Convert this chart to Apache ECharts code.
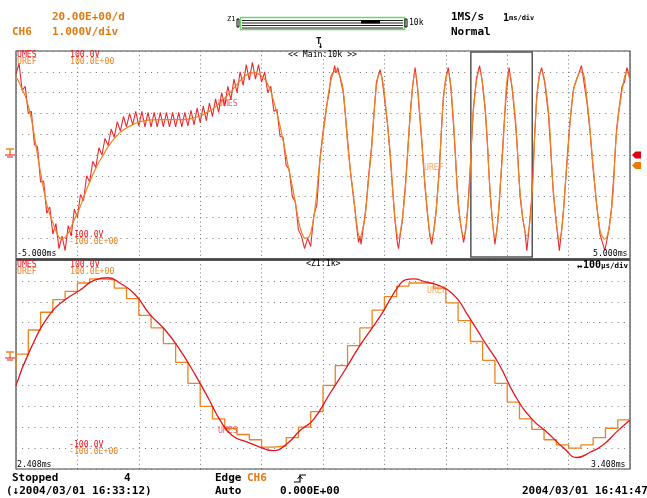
<!DOCTYPE html>
<html><head><meta charset="utf-8">
<script src="https://cdn.jsdelivr.net/npm/echarts@6/dist/echarts.min.js"></script>
<style>html,body{margin:0;padding:0;background:#fff;}#c{width:647px;height:498px;}</style>
</head><body><div id="c"></div>
<script>
// ---- data (time in ms, value in V) ----
const topRange = [-5, 5];
const zoomRange = [2.408, 3.408];
const yRange = [-100, 100];
const urefTop = [[-5.00,75],[-4.95,70],[-4.90,63],[-4.85,57],[-4.80,47],[-4.75,35],[-4.70,18],[-4.65,0],[-4.60,-17],[-4.55,-33],[-4.50,-47],[-4.45,-57],[-4.40,-65],[-4.35,-73],[-4.30,-79],[-4.25,-80.5],[-4.20,-79],[-4.15,-75],[-4.10,-69],[-4.05,-62],[-4.00,-56],[-3.95,-49],[-3.90,-41],[-3.85,-33],[-3.80,-26],[-3.75,-19],[-3.70,-13],[-3.65,-7],[-3.60,-2],[-3.55,3],[-3.50,8],[-3.45,12],[-3.40,16],[-3.35,19],[-3.30,22],[-3.25,24],[-3.20,26],[-3.15,27.5],[-3.10,29],[-3.05,30.5],[-3.00,31.5],[-2.90,33],[-2.80,33.8],[-2.60,34],[-2.40,34],[-2.20,34.3],[-2.10,35.8],[-2.00,37.5],[-1.90,40.5],[-1.80,44],[-1.70,49],[-1.60,55],[-1.50,61],[-1.40,68],[-1.30,74.5],[-1.20,78.5],[-1.12,79.3],[-1.05,78],[-0.95,73],[-0.90,68],[-0.85,61],[-0.80,51],[-0.75,40],[-0.70,28],[-0.65,14],[-0.60,-1],[-0.55,-16],[-0.50,-30],[-0.45,-46],[-0.40,-63],[-0.35,-74],[-0.29,-80],[-0.22,-78],[-0.14,-56],[-0.05,-5],[0.06,46],[0.13,72],[0.21,81],[0.28,75],[0.33,62],[0.41,5],[0.49,-36],[0.55,-66],[0.60,-80],[0.65,-70],[0.68,-62],[0.74,-25],[0.79,5],[0.87,66],[0.93,79],[0.98,68],[1.01,53],[1.09,5],[1.17,-59],[1.23,-80],[1.29,-62],[1.34,-33],[1.42,37],[1.50,80],[1.58,37],[1.66,-27],[1.77,-80],[1.88,-27],[1.96,53],[2.04,80],[2.12,37],[2.20,-43],[2.29,-78],[2.37,-43],[2.45,43],[2.55,81],[2.64,46],[2.72,-33],[2.80,-80],[2.91,-11],[3.03,80],[3.13,37],[3.21,-36],[3.32,-78],[3.40,-43],[3.48,53],[3.56,81],[3.67,43],[3.75,-33],[3.85,-81],[3.97,-11],[4.08,62],[4.21,81],[4.30,53],[4.40,-11],[4.51,-72],[4.59,-81],[4.70,-52],[4.78,21],[4.87,62],[4.95,80],[5.00,72]];
const umesTop = [[-5.00,78],[-4.95,88],[-4.90,62],[-4.85,66],[-4.80,40],[-4.75,42],[-4.70,10],[-4.65,8],[-4.60,-26],[-4.55,-25],[-4.50,-56],[-4.45,-50],[-4.40,-76],[-4.35,-66],[-4.30,-90],[-4.25,-78],[-4.20,-92],[-4.15,-68],[-4.10,-78],[-4.05,-52],[-4.00,-60],[-3.95,-38],[-3.90,-44],[-3.85,-20],[-3.80,-26],[-3.75,-6],[-3.70,-12],[-3.65,7],[-3.60,0],[-3.55,16],[-3.50,9],[-3.45,25],[-3.40,17],[-3.35,32],[-3.30,23],[-3.25,37],[-3.20,27],[-3.15,40],[-3.10,29],[-3.05,42],[-3.00,28],[-2.95,42],[-2.90,27],[-2.85,41],[-2.80,27],[-2.75,41],[-2.70,27],[-2.65,41],[-2.60,27],[-2.55,41],[-2.50,27],[-2.45,41],[-2.40,27],[-2.35,41],[-2.30,27],[-2.25,41],[-2.20,28],[-2.15,43],[-2.10,29],[-2.05,45],[-2.00,31],[-1.95,47],[-1.90,33],[-1.85,50],[-1.80,37],[-1.75,54],[-1.70,41],[-1.65,60],[-1.60,47],[-1.55,66],[-1.50,53],[-1.45,73],[-1.40,60],[-1.35,80],[-1.30,67],[-1.25,87],[-1.20,72],[-1.15,89],[-1.10,73],[-1.05,87],[-1.00,70],[-0.95,80],[-0.90,60],[-0.85,66],[-0.80,42],[-0.75,44],[-0.70,18],[-0.65,17],[-0.60,-10],[-0.55,-14],[-0.50,-40],[-0.45,-45],[-0.40,-72],[-0.35,-78],[-0.30,-90],[-0.25,-80],[-0.20,-88],[-0.15,-58],[-0.10,-48],[-0.05,-4],[0.00,22],[0.06,48],[0.10,60],[0.13,76],[0.17,80],[0.19,86],[0.21,79],[0.24,84],[0.28,74],[0.33,60],[0.37,35],[0.41,8],[0.45,-18],[0.49,-38],[0.52,-52],[0.55,-70],[0.58,-84],[0.60,-78],[0.62,-86],[0.65,-72],[0.68,-60],[0.71,-44],[0.74,-22],[0.79,8],[0.83,40],[0.87,70],[0.90,76],[0.93,82],[0.96,74],[1.01,50],[1.05,30],[1.09,2],[1.13,-30],[1.17,-62],[1.21,-84],[1.23,-90],[1.26,-76],[1.29,-64],[1.34,-30],[1.38,4],[1.42,40],[1.46,66],[1.50,84],[1.54,64],[1.58,34],[1.62,4],[1.66,-30],[1.70,-56],[1.74,-78],[1.77,-86],[1.80,-74],[1.84,-56],[1.88,-24],[1.92,14],[1.96,56],[2.00,74],[2.04,84],[2.08,66],[2.12,34],[2.16,-4],[2.20,-46],[2.24,-66],[2.29,-84],[2.33,-70],[2.37,-40],[2.41,0],[2.45,46],[2.50,74],[2.55,86],[2.59,72],[2.64,44],[2.68,8],[2.72,-36],[2.76,-64],[2.80,-86],[2.84,-68],[2.87,-48],[2.91,-8],[2.95,30],[2.99,62],[3.03,84],[3.08,64],[3.13,34],[3.17,2],[3.21,-40],[3.25,-60],[3.29,-74],[3.32,-92],[3.36,-68],[3.40,-40],[3.44,10],[3.48,56],[3.52,76],[3.56,84],[3.61,70],[3.67,40],[3.71,4],[3.75,-36],[3.80,-66],[3.85,-92],[3.89,-70],[3.93,-44],[3.97,-8],[4.02,30],[4.08,64],[4.14,74],[4.21,86],[4.25,70],[4.30,50],[4.35,22],[4.40,-14],[4.45,-44],[4.51,-76],[4.55,-84],[4.59,-92],[4.63,-80],[4.66,-70],[4.70,-50],[4.74,-16],[4.78,24],[4.82,44],[4.87,66],[4.91,70],[4.95,84],[5.00,74]];
const umesBot = [[2.408,-20],[2.431,14],[2.463,48],[2.488,62],[2.512,71],[2.537,81],[2.558,83],[2.577,78],[2.602,67],[2.626,48],[2.651,33],[2.675,14],[2.700,-10],[2.721,-32],[2.740,-53],[2.760,-68],[2.784,-74],[2.805,-79],[2.827,-82.5],[2.849,-76],[2.871,-63],[2.892,-53],[2.919,-28],[2.944,-5],[2.968,18],[3.001,46],[3.017,62],[3.030,74],[3.042,81],[3.056,82],[3.075,79],[3.095,76],[3.112,71],[3.128,62],[3.143,48],[3.158,34],[3.175,18],[3.195,0],[3.221,-30],[3.248,-52],[3.275,-66],[3.300,-80],[3.322,-89],[3.343,-84],[3.364,-77],[3.387,-64],[3.408,-53]];
const urefBot = [[2.408,-5],[2.428,10],[2.448,33],[2.468,50],[2.488,62],[2.508,70],[2.528,78],[2.548,82],[2.568,81],[2.588,73],[2.608,63],[2.628,47],[2.648,35],[2.668,20],[2.688,2],[2.708,-18],[2.728,-40],[2.748,-52],[2.768,-61],[2.788,-67],[2.808,-72],[2.828,-79],[2.848,-78],[2.868,-70],[2.888,-60],[2.908,-45],[2.928,-20],[2.948,-1],[2.968,18],[2.988,35],[3.008,52],[3.028,65],[3.048,75],[3.068,78],[3.088,78],[3.108,73],[3.128,59],[3.148,42],[3.168,22],[3.188,4],[3.208,-18],[3.228,-36],[3.248,-52],[3.268,-62],[3.288,-72],[3.308,-77],[3.328,-80],[3.348,-77],[3.368,-70],[3.388,-61],[3.408,-53]];

const RED = '#e8141c', ORG = '#ec8420', HDR = '#e27a10', MONO = '"DejaVu Sans Mono", monospace';
const chart = echarts.init(document.getElementById('c'), null, {renderer:'canvas'});

function xAx(idx, range){
  return {type:'value', gridIndex:idx, min:range[0], max:range[1], interval:(range[1]-range[0])/10,
    axisLine:{show:false}, axisTick:{show:false}, axisLabel:{show:false},
    splitLine:{show:true, lineStyle:{color:'#777', width:1, type:[1,3.16]}}};
}
function yAx(idx){
  return {type:'value', gridIndex:idx, min:yRange[0], max:yRange[1], interval:20,
    axisLine:{show:false}, axisTick:{show:false}, axisLabel:{show:false},
    splitLine:{show:true, lineStyle:{color:'#777', width:1, type:[1,5.14]}}};
}
function txt(x, y, s, color, size, bold, extra){
  return Object.assign({type:'text', x:x, y:y, z:100, style:{text:s, fill:color||'#000',
    font:(bold?'bold ':'')+size+'px '+MONO, textVerticalAlign:'top'}}, extra||{});
}
const g = [];
// header
g.push(txt(52,12,'20.00E+00/d',HDR,11,true));
g.push(txt(12,27,'CH6',HDR,11,true));
g.push(txt(52,27,'1.000V/div',HDR,11,true));
g.push(txt(227,16,'Z1',null,7,false));
g.push({type:'rect', shape:{x:237,y:19,width:2,height:8}, style:{fill:'none',stroke:'#000',lineWidth:1}});
g.push({type:'rect', shape:{x:240.5,y:17.5,width:164,height:12}, style:{fill:'#fff',stroke:'#6fd36f',lineWidth:1.5}});
[20.5,23,25.5,28].forEach(function(yy){g.push({type:'line', shape:{x1:242,y1:yy,x2:403,y2:yy}, style:{stroke:'#222',lineWidth:1}});});
g.push({type:'rect', shape:{x:361,y:20,width:19,height:3.5}, style:{fill:'#000'}});
g.push({type:'rect', shape:{x:405,y:19,width:2,height:8}, style:{fill:'none',stroke:'#000',lineWidth:1}});
g.push(txt(409,19,'10k',null,8,false));
g.push(txt(451,12,'1MS/s',null,11,true));
g.push(txt(503,13,'1',null,10,true));
g.push(txt(509,15,'ms/div',null,7,true));
g.push(txt(451,27,'Normal',null,11,true));
g.push(txt(316,37,'T',null,9,true));
g.push(txt(318,41,'↓',null,9,true));
// top panel labels
g.push(txt(17,51,'UMES',RED,8.2,false));
g.push(txt(17,58,'UREF',ORG,8.2,false));
g.push(txt(70,51,'100.0V',RED,8.2,false));
g.push(txt(70,58,'100.0E+00',ORG,8.2,false));
g.push(txt(69,231,'-100.0V',RED,8.2,false));
g.push(txt(69,238,'-100.0E+00',ORG,8.2,false));
g.push(txt(17,250,'-5.000ms',null,8.2,false));
g.push(txt(593,250,'5.000ms',null,8.2,false));
g.push(txt(288,51,'<< Main:10k >>',null,8.2,false));
g.push(txt(218,100,'UMES','rgba(232,20,28,0.7)',8.2,false));
g.push(txt(424,164,'UREF','rgba(236,132,32,0.7)',8.2,false));
// bottom panel labels
g.push(txt(17,261,'UMES',RED,8.2,false));
g.push(txt(17,268,'UREF',ORG,8.2,false));
g.push(txt(70,261,'100.0V',RED,8.2,false));
g.push(txt(70,268,'100.0E+00',ORG,8.2,false));
g.push(txt(306,260,'<Z1:1k>',null,8.2,false));
g.push(txt(577,262,'↔',null,9,true));
g.push(txt(583,260,'100',null,10,true));
g.push(txt(601,262,'μs/div',null,7.5,true));
g.push(txt(69,441,'-100.0V',RED,8.2,false));
g.push(txt(69,448,'-100.0E+00',ORG,8.2,false));
g.push(txt(17,461,'2.408ms',null,8.2,false));
g.push(txt(591,461,'3.408ms',null,8.2,false));
g.push(txt(218,427,'UMES','rgba(232,20,28,0.7)',8.2,false));
g.push(txt(427,287,'UREF','rgba(236,132,32,0.7)',8.2,false));
// status line
g.push(txt(12,473,'Stopped',null,11,true));
g.push(txt(124,473,'4',null,11,true));
g.push(txt(215,473,'Edge',null,11,true));
g.push(txt(247,473,'CH6',HDR,11,true));
g.push({type:'polyline', shape:{points:[[294,482],[300,482],[300,475],[306,475]]}, style:{stroke:'#000',lineWidth:1.2,fill:null}});
g.push({type:'polyline', shape:{points:[[297.5,479],[300,476],[302.5,479]]}, style:{stroke:'#000',lineWidth:1,fill:null}});
g.push(txt(6,486,'(↓2004/03/01 16:33:12)',null,11,true));
g.push(txt(215,486,'Auto',null,11,true));
g.push(txt(280,486,'0.000E+00',null,11,true));
g.push(txt(522,486,'2004/03/01 16:41:47',null,11,true));
// panel separator
g.push({type:'line', shape:{x1:16,y1:259.5,x2:630,y2:259.5}, style:{stroke:'#444',lineWidth:2.5}, z:50});
// ground markers
function gnd(y, c1, c2){
  g.push({type:'line', shape:{x1:6,y1:y,x2:14,y2:y}, style:{stroke:c1,lineWidth:1.5}});
  g.push({type:'line', shape:{x1:10,y1:y,x2:10,y2:y+6}, style:{stroke:c1,lineWidth:1.5}});
  g.push({type:'line', shape:{x1:5,y1:y+6,x2:15,y2:y+6}, style:{stroke:c2,lineWidth:1}});
  g.push({type:'line', shape:{x1:7,y1:y+8,x2:13,y2:y+8}, style:{stroke:c2,lineWidth:1}});
}
gnd(149, ORG, RED);
gnd(352, ORG, RED);
// right trigger-level flags
g.push({type:'polygon', shape:{points:[[632,155],[635.5,151.5],[641,151.5],[641,158.5],[635.5,158.5]]}, style:{fill:'#e00010'}});
g.push({type:'polygon', shape:{points:[[632,165.5],[635.5,162],[641,162],[641,169],[635.5,169]]}, style:{fill:'#ee7a00'}});

chart.setOption({
  animation:false,
  backgroundColor:'#fff',
  grid:[
    {left:16, top:51, width:614, height:208, show:true, borderColor:'#444', borderWidth:1.2, backgroundColor:'#fff'},
    {left:16, top:260, width:614, height:209, show:true, borderColor:'#444', borderWidth:1.2, backgroundColor:'#fff'}
  ],
  xAxis:[xAx(0, topRange), xAx(1, zoomRange)],
  yAxis:[yAx(0), yAx(1)],
  series:[
    {type:'line', name:'UMES', xAxisIndex:0, yAxisIndex:0, data:umesTop, showSymbol:false, smooth:false,
      lineStyle:{color:RED, width:1.1, opacity:0.9}, z:3,
      markArea:{silent:true, itemStyle:{color:'rgba(0,0,0,0)', borderColor:'#555', borderWidth:1.5},
        data:[[{xAxis:zoomRange[0], yAxis:99},{xAxis:zoomRange[1], yAxis:-98}]]}},
    {type:'line', name:'UREF', xAxisIndex:0, yAxisIndex:0, data:urefTop, showSymbol:false, smooth:0.4,
      lineStyle:{color:ORG, width:1.2}, z:4},
    {type:'line', name:'UMES', xAxisIndex:1, yAxisIndex:1, data:umesBot, showSymbol:false, smooth:0.5,
      lineStyle:{color:RED, width:1.3}, z:4},
    {type:'line', name:'UREF', xAxisIndex:1, yAxisIndex:1, data:urefBot, showSymbol:false, step:'start',
      lineStyle:{color:ORG, width:1.3}, z:3}
  ],
  graphic:g
});
</script>
</body></html>
